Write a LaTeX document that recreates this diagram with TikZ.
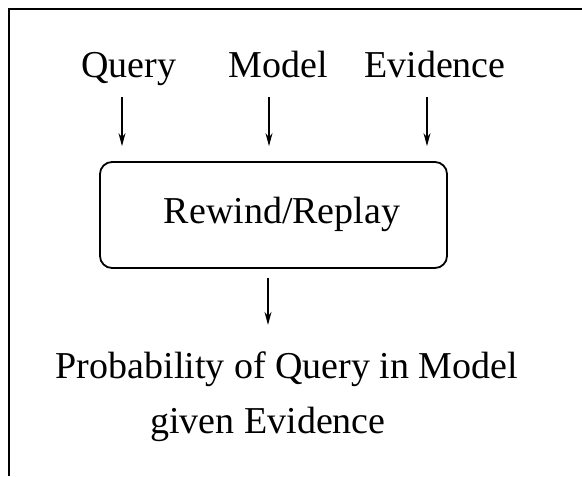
\documentclass[tikz,border=0pt]{standalone}
\usepackage{fontspec}
\setmainfont{Liberation Serif}
\usetikzlibrary{arrows.meta}

\tikzset{
  lbl/.style={font=\fontsize{19}{21}\selectfont, inner sep=0pt, anchor=base},
  arr/.style={-{Stealth[length=6.5pt,width=3.5pt]}, line width=0.6pt},
  procbox/.style={draw, rounded corners=6pt, line width=0.9pt,
    minimum width=173.5pt, minimum height=53pt, inner sep=0pt}
}

\begin{document}
\begin{tikzpicture}[x=0.5pt, y=-0.5pt]
        \useasboundingbox (0, 0) rectangle (582, 476);
        \draw[line width=0.9pt] (9, 476) -- (9, 9) -- (582, 9);

        \node[lbl] (query) at (129, 77) {Query};
        \node[lbl] (model) at (278, 77) {Model};
        \node[lbl] (evid) at (435, 77) {Evidence};
        \node[procbox] (rr) at (273.5, 215) {};
        \node[lbl] (rrtext) at (282, 223) {Rewind/Replay};
        \node[lbl] (prob) at (287, 378) {Probability of Query in Model};
        \node[lbl] (given) at (268, 433) {given Evidence};

        \draw[arr, shorten >=7.5pt] ([shift={(-7, 20)}]query.base) -- ([shift={(-7, 0)}]query.base |- rr.north);
        \draw[arr, shorten >=7.5pt] ([shift={(-9, 20)}]model.base) -- ([shift={(-9, 0)}]model.base |- rr.north);
        \draw[arr, shorten >=7.5pt] ([shift={(-8, 20)}]evid.base) -- ([shift={(-8, 0)}]evid.base |- rr.north);
        \draw[arr, shorten <=4.5pt, shorten >=13pt] ([shift={(-5.5, 0)}]rr.south) -- ([shift={(-5.5, 0)}]rr.south |- prob.north);
\end{tikzpicture}
\end{document}
